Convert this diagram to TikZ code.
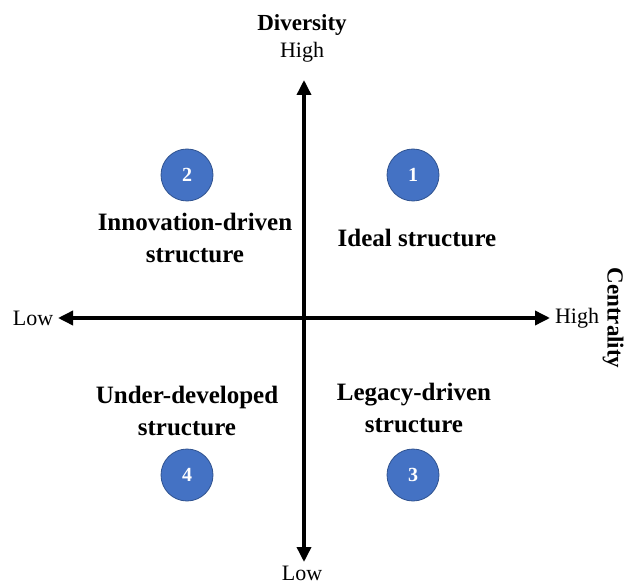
\documentclass[tikz,border=0pt]{standalone}
\usepackage{fontspec}
\setmainfont{Liberation Serif}
\usetikzlibrary{arrows.meta}
\begin{document}
\begin{tikzpicture}[x=1pt,y=-1pt,
  axis/.style={line width=3.5pt,-{Triangle[length=15pt,width=14pt]}},
  badge/.style={circle,fill={rgb,255:red,68;green,114;blue,196},draw={rgb,255:red,47;green,82;blue,143},line width=0.8pt,minimum size=52pt,inner sep=0pt,text=white,font=\fontsize{20}{20}\selectfont\bfseries},
  lbl/.style={font=\fontsize{22}{22}\selectfont,inner sep=0pt},
  quad/.style={font=\fontsize{25}{32}\selectfont\bfseries,align=center,inner sep=0pt}]
\useasboundingbox (0,0) rectangle (626,585);
\coordinate (O) at (304,318);
\coordinate (T) at (304,80);
\coordinate (B) at (304,562);
\coordinate (L) at (58,318);
\coordinate (R) at (550,318);
\draw[axis] (O) -- (T);
\draw[axis] (O) -- (B);
\draw[axis] (O) -- (L);
\draw[axis] (O) -- (R);
\node[lbl,font=\fontsize{23}{23}\selectfont\bfseries] (div) at (302,25) {Diversity};
\node[lbl] (vh) at (302,52) {High};
\node[lbl] (vl) at (302,573) {Low};
\node[lbl] (hl) at (33,318) {Low};
\node[lbl] (hh) at (577,318) {High};
\node[lbl,font=\fontsize{23}{23}\selectfont\bfseries,rotate=-90] (cen) at (613,318) {Centrality};
\node[badge] (c2) at (187,175) {2};
\node[badge] (c1) at (413,175) {1};
\node[badge] (c4) at (187,475) {4};
\node[badge] (c3) at (413,475) {3};
\node[quad] (q2) at (195,238) {Innovation-driven\\structure};
\node[quad] (q1) at (417,238) {Ideal structure};
\node[quad] (q4) at (187,411) {Under-developed\\structure};
\node[quad] (q3) at (414,408) {Legacy-driven\\structure};
\end{tikzpicture}
\end{document}
